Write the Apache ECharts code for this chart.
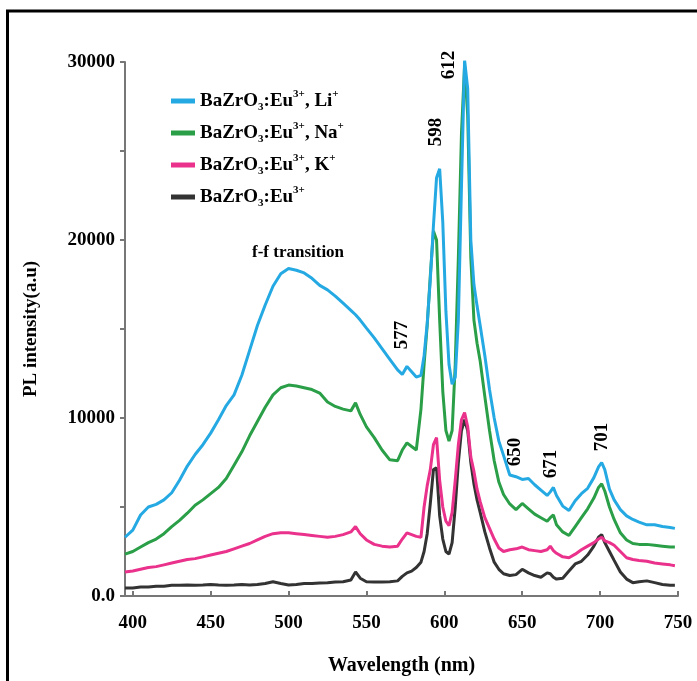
<!DOCTYPE html>
<html>
<head>
<meta charset="utf-8">
<title>PL spectra</title>
<script src="https://cdn.jsdelivr.net/npm/echarts@6/dist/echarts.min.js"></script>
<style>
  html, body { margin: 0; padding: 0; background: #fff; }
  #chart { width: 697px; height: 681px; }
</style>
</head>
<body>
<div id="chart"></div>
<script>
// wavelength (nm)
const wavelength = [395,400,405,410,415,420,425,430,435,440,445,450,455,460,465,470,475,480,485,490,495,500,505,510,515,520,525,530,535,540,543,546,550,555,560,565,570,573,576,579,582,585,587,589,591,593,595,597,599,601,603,605,607,609,611,613,615,617,619,621,623,626,629,632,635,638,642,646,650,654,658,662,666,668,670,672,676,680,684,688,692,696,699,701,703,706,709,713,717,721,725,730,735,740,745,748];

// PL intensity (a.u)
const liValues = [3300,3700,4550,5000,5150,5400,5800,6500,7300,7950,8500,9150,9900,10700,11300,12400,13800,15200,16350,17400,18100,18400,18300,18150,17850,17450,17200,16850,16450,16050,15800,15500,15050,14500,13900,13300,12700,12450,12900,12600,12300,12400,13500,15300,17800,20800,23500,24000,21000,16000,13000,11900,12300,15500,23000,30100,28500,20000,17500,16300,15200,13500,11600,10000,8700,7900,6800,6700,6550,6600,6250,5950,5650,5850,6100,5650,5050,4800,5350,5750,6050,6650,7250,7500,7100,6000,5400,4850,4500,4300,4150,4000,4000,3900,3850,3800];
const naValues = [2350,2500,2750,3000,3200,3500,3900,4250,4650,5100,5400,5750,6100,6600,7350,8100,9000,9800,10600,11300,11700,11850,11800,11700,11600,11400,10900,10650,10500,10400,10850,10200,9500,8900,8200,7650,7600,8200,8600,8400,8200,10500,13000,15200,18000,20500,20000,15500,11500,9300,8700,9300,13000,19000,26000,29800,27000,19000,15500,14200,13200,11200,9300,7600,6400,5700,5170,4850,5200,4900,4600,4400,4200,4400,4550,4000,3600,3400,3900,4400,4900,5500,6100,6300,5900,5000,4300,3550,3150,2950,2900,2900,2850,2800,2750,2750];
const kValues = [1350,1400,1500,1600,1650,1750,1850,1950,2050,2100,2200,2300,2400,2500,2650,2800,2950,3150,3350,3500,3550,3550,3500,3450,3400,3350,3300,3350,3450,3600,3900,3500,3150,2900,2800,2750,2800,3200,3550,3450,3350,3300,5000,6200,7100,8500,8900,6500,5000,4200,3950,4700,6500,8500,9900,10300,9500,7800,7000,6000,5300,4400,3800,3200,2700,2500,2600,2650,2750,2600,2550,2500,2600,2800,2550,2400,2200,2150,2350,2600,2800,3000,3200,3300,3100,3000,2850,2500,2150,2050,2000,1950,1850,1800,1750,1700];
const euValues = [450,450,500,500,550,550,600,600,620,600,620,650,620,600,620,650,620,650,700,800,700,620,650,700,700,730,750,780,800,900,1350,1000,800,780,780,800,850,1100,1300,1400,1600,1900,2500,3500,5200,7100,7200,4500,3200,2500,2350,3000,5000,7500,9300,9900,9300,7500,6300,5400,4700,3600,2700,1900,1500,1250,1150,1200,1500,1300,1150,1050,1300,1250,1050,950,1000,1400,1800,1950,2300,2800,3300,3450,3000,2500,2000,1350,950,750,800,850,750,650,600,600];

const seriesNames = ['Li', 'Na', 'K', 'Eu'];
const legendText = {
  Li: '{t|BaZrO}{sub|3}{t|:Eu}{sup|3+}{t|, Li}{sup|+}',
  Na: '{t|BaZrO}{sub|3}{t|:Eu}{sup|3+}{t|, Na}{sup|+}',
  K: '{t|BaZrO}{sub|3}{t|:Eu}{sup|3+}{t|, K}{sup|+}',
  Eu: '{t|BaZrO}{sub|3}{t|:Eu}{sup|3+}'
};
const colors = { Li: '#25a9e3', Na: '#2a9f48', K: '#ea318b', Eu: '#333333' };

// x tick labels
const xTicks = [400, 450, 500, 550, 600, 650, 700, 750];

// peak labels: [text, x, y]
const peakLabels = [
  ['577', 402, 335],
  ['598', 436, 132],
  ['612', 449, 65],
  ['650', 515, 452],
  ['671', 551, 464],
  ['701', 602, 437]
];

const font = 'Liberation Serif, Times New Roman, serif';

const chart = echarts.init(document.getElementById('chart'));

const valuesByName = { Li: liValues, Na: naValues, K: kValues, Eu: euValues };
const pairs = arr => wavelength.map((w, i) => [w, arr[i]]);

// draw black first so blue ends on top
const drawOrder = ['Eu', 'K', 'Na', 'Li'];

chart.setOption({
  animation: false,
  backgroundColor: '#fff',
  grid: { left: 125, right: 19, top: 62, bottom: 85 },
  legend: {
    data: seriesNames,
    orient: 'vertical',
    left: 166,
    top: 84,
    itemWidth: 24,
    itemHeight: 5,
    itemGap: 8,
    icon: 'rect',
    formatter: name => legendText[name],
    textStyle: {
      rich: {
        t: { fontFamily: font, fontWeight: 'bold', fontSize: 19, color: '#000', lineHeight: 24, verticalAlign: 'middle' },
        sup: { fontFamily: font, fontWeight: 'bold', fontSize: 11, color: '#000', lineHeight: 24, verticalAlign: 'top' },
        sub: { fontFamily: font, fontWeight: 'bold', fontSize: 11, color: '#000', lineHeight: 20, verticalAlign: 'bottom' }
      }
    }
  },
  xAxis: {
    type: 'value',
    min: 395,
    max: 750,
    name: 'Wavelength (nm)',
    nameLocation: 'middle',
    nameGap: 60,
    nameTextStyle: { fontFamily: font, fontWeight: 'bold', fontSize: 20, color: '#000' },
    axisLine: { lineStyle: { color: '#777', width: 2 } },
    axisTick: { inside: true, length: 5, customValues: xTicks, lineStyle: { color: '#777', width: 2 } },
    axisLabel: { customValues: xTicks, margin: 18, fontFamily: font, fontWeight: 'bold', fontSize: 19, color: '#000' },
    splitLine: { show: false }
  },
  yAxis: {
    type: 'value',
    min: 0,
    max: 30000,
    interval: 5000,
    name: 'PL intensity(a.u)',
    nameLocation: 'middle',
    nameGap: 84,
    nameTextStyle: { fontFamily: font, fontWeight: 'bold', fontSize: 19, color: '#000' },
    axisLine: { show: true, lineStyle: { color: '#777', width: 2 } },
    axisTick: { show: true, length: 5, lineStyle: { color: '#777', width: 2 } },
    axisLabel: {
      margin: 10,
      fontFamily: font, fontWeight: 'bold', fontSize: 19, color: '#000',
      formatter: v => (v === 0 ? '0.0' : (v % 10000 === 0 ? String(v) : ''))
    },
    splitLine: { show: false }
  },
  series: drawOrder.map(name => ({
    name: name,
    type: 'line',
    data: pairs(valuesByName[name]),
    showSymbol: false,
    smooth: false,
    color: colors[name],
    lineStyle: { width: 3, color: colors[name] }
  })),
  graphic: [
    {
      type: 'rect',
      shape: { x: 7.5, y: 11, width: 760, height: 720 },
      style: { fill: 'none', stroke: '#000', lineWidth: 3 },
      silent: true
    },
    {
      type: 'text',
      x: 252, y: 253,
      style: { text: 'f-f transition', font: 'bold 17px ' + font, fill: '#000', textVerticalAlign: 'middle' }
    }
  ].concat(peakLabels.map(p => ({
    type: 'text',
    x: p[1], y: p[2],
    rotation: Math.PI / 2,
    style: { text: p[0], font: 'bold 19px ' + font, fill: '#000', textAlign: 'center', textVerticalAlign: 'middle' }
  })))
});
</script>
</body>
</html>
